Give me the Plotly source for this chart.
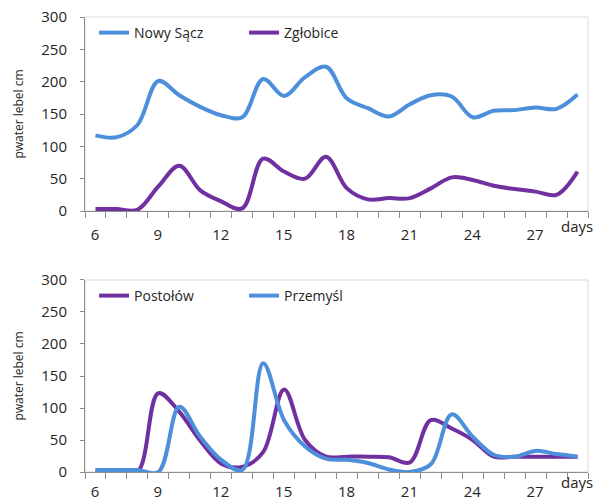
import plotly.graph_objects as go

# Daily water levels (cm) at four gauging stations
days = list(range(6, 30))

nowy_sacz = [117, 114, 133, 201, 179, 161, 148, 145, 204, 178, 207, 223, 174, 159,
             146, 165, 179, 177, 145, 155, 156, 160, 158, 180]
zglobice = [3, 3, 2, 38, 70, 32, 15, 4, 81, 61, 50, 84, 35, 18,
            20, 20, 35, 52, 48, 39, 34, 30, 25, 61]

postolow = [2, 0, 0, 123, 94, 49, 13, 8, 31, 129, 50, 24, 24, 24,
            23, 15, 81, 68, 50, 24, 24, 24, 24, 24]
przemysl = [3, 3, 3, 0, 102, 55, 19, 3, 170, 81, 40, 21, 19, 14,
            4, 0, 12, 90, 55, 27, 24, 33, 28, 24]

x_labels = [6, 9, 12, 15, 18, 21, 24, 27]
y_ticks = [0, 50, 100, 150, 200, 250, 300]

BLUE = "#4E8FDB"
PURPLE = "#7030A0"
FONT = "Open Sans"
TXT = "#262626"
AXIS = "#8c8c8c"

# tick marks sit on the boundaries between days; each label is shifted
# half a day to the right so it is centred under its day
day_edges = [d - 0.5 for d in days] + [days[-1] + 0.5]
edge_text = [str(int(e + 0.5)) if int(e + 0.5) in x_labels else "" for e in day_edges]
XRANGE = [day_edges[0], day_edges[-1]]
PLOT_W = 595 - 85 - 7
HALF_DAY_PX = int(round(PLOT_W / (XRANGE[1] - XRANGE[0]) / 2))

fig = go.Figure()

line_kw = dict(mode="lines", line_shape="spline")
fig.add_trace(go.Scatter(x=days, y=nowy_sacz, name="Nowy Sącz",
                         line=dict(color=BLUE, width=4, smoothing=1.0),
                         xaxis="x", yaxis="y", legend="legend", **line_kw))
fig.add_trace(go.Scatter(x=days, y=zglobice, name="Zgłobice",
                         line=dict(color=PURPLE, width=4, smoothing=1.0),
                         xaxis="x", yaxis="y", legend="legend", **line_kw))
fig.add_trace(go.Scatter(x=days, y=postolow, name="Postołów",
                         line=dict(color=PURPLE, width=4, smoothing=1.0),
                         xaxis="x2", yaxis="y2", legend="legend2", **line_kw))
fig.add_trace(go.Scatter(x=days, y=przemysl, name="Przemyśl",
                         line=dict(color=BLUE, width=4, smoothing=1.0),
                         xaxis="x2", yaxis="y2", legend="legend2", **line_kw))

xaxis_common = dict(
    range=XRANGE, tickmode="array", tickvals=day_edges, ticktext=edge_text,
    ticks="outside", ticklen=6, tickcolor=AXIS, ticklabelshift=HALF_DAY_PX,
    showgrid=False, zeroline=False, showline=True,
    linecolor=AXIS, linewidth=1, automargin=False,
    tickfont=dict(family=FONT, size=15, color=TXT),
)
yaxis_common = dict(
    range=[0, 300], tickmode="array", tickvals=y_ticks, ticks="outside",
    ticklen=4, tickcolor=AXIS, showgrid=False, zeroline=False,
    showline=True, linecolor=AXIS, linewidth=1, ticklabelstandoff=10,
    automargin=False,
    tickfont=dict(family=FONT, size=15, color=TXT),
    title=dict(text="pwater lebel cm", font=dict(family=FONT, size=12, color=TXT)),
)

top_dom = [0.5736, 1.0]
bot_dom = [0.0, 0.422]

legend_kw = dict(orientation="h", xanchor="left", yanchor="top",
                 bgcolor="rgba(0,0,0,0)", font=dict(family=FONT, size=14, color=TXT),
                 entrywidth=105, entrywidthmode="pixels", tracegroupgap=0)

fig.update_layout(
    width=595, height=499,
    margin=dict(l=85, r=7, t=17, b=27),
    paper_bgcolor="white", plot_bgcolor="white",
    font=dict(family=FONT, color=TXT),
    xaxis=dict(domain=[0, 1], anchor="y", ticklabelstandoff=4, **xaxis_common),
    yaxis=dict(domain=top_dom, anchor="x", **yaxis_common),
    xaxis2=dict(domain=[0, 1], anchor="y2", ticklabelstandoff=0, **xaxis_common),
    yaxis2=dict(domain=bot_dom, anchor="x2", **yaxis_common),
    legend=dict(x=0.018, y=1.0, **legend_kw),
    legend2=dict(x=0.018, y=0.422, **legend_kw),
    showlegend=True,
)

# light frame around each plotting area
for xref, yref in (("x domain", "y domain"), ("x2 domain", "y2 domain")):
    fig.add_shape(type="rect", xref=xref, yref=yref, x0=0, x1=1, y0=0, y1=1,
                  line=dict(color="#d9d9d9", width=1), layer="below")

# axis unit label at the end of each x axis
for yref, dy in (("y domain", -3), ("y2 domain", 2)):
    fig.add_annotation(text="days", xref="paper", yref=yref, x=1.0, y=0,
                       xanchor="right", yanchor="top", xshift=7, yshift=dy,
                       showarrow=False, font=dict(family=FONT, size=15, color=TXT))

fig.write_html("out.html")
